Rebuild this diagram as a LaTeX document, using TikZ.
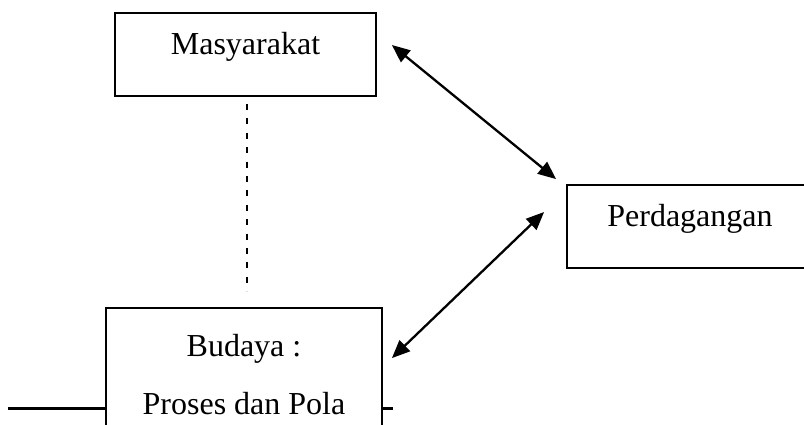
\documentclass[tikz,border=0pt]{standalone}
\usepackage{fontspec}
\setmainfont{Liberation Serif}
\usetikzlibrary{arrows.meta,calc}

\begin{document}
\begin{tikzpicture}[x=0.5pt,y=-0.5pt,
    kotak/.style={rectangle,draw=black,fill=white,line width=0.9pt,inner sep=0pt,
      font=\fontsize{16}{29}\selectfont},
    tengah/.style={text height=12pt,text depth=12pt},
    panah/.style={{Triangle[length=9pt,width=7.5pt]}-{Triangle[length=9pt,width=7.5pt]},line width=1.15pt},
    putus/.style={line width=1pt,dash pattern=on 3pt off 4.2pt}]
  \useasboundingbox (0,0) rectangle (804,424);
  % garis bawah, di belakang kotak budaya
  \coordinate (gkiri) at (8,408.5);
  \coordinate (gkanan) at (393,408.5);
  \draw[line width=1.5pt] (gkiri) -- (gkanan);
  \node (masy) at (245.5,54.5) [kotak,tengah,minimum width=130.5pt,minimum height=41.5pt] {Masyarakat};
  \node (dagang) at (690,226.5) [kotak,tengah,minimum width=123pt,minimum height=41.5pt] {Perdagangan};
  \node (budaya) at (244,375) [kotak,align=center,minimum width=138pt,minimum height=67pt] {Budaya :\\Proses dan Pola};
  \draw[putus,shorten <=3.5pt,shorten >=8pt] ([xshift=0.75pt]masy.south) -- ([xshift=0.75pt]masy.south |- budaya.north);
  \draw[panah] ([xshift=7.5pt,yshift=4.75pt]masy.east) -- ([xshift=-5pt,yshift=2.5pt]dagang.north west);
  \draw[panah] ([xshift=4.5pt,yshift=-25.5pt]budaya.north east) -- ([xshift=-11pt,yshift=7.25pt]dagang.west);
\end{tikzpicture}
\end{document}
